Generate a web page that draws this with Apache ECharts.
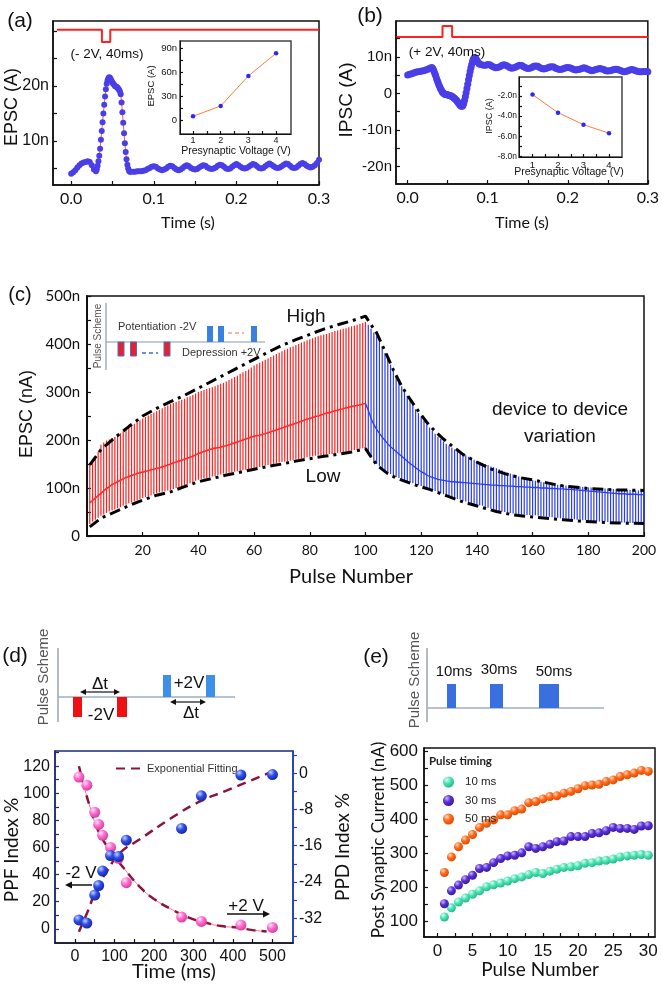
<!DOCTYPE html>
<html><head><meta charset="utf-8">
<script src="https://cdn.jsdelivr.net/npm/echarts@6/dist/echarts.min.js"></script>
<style>html,body{margin:0;padding:0;background:#fff}#c{width:662px;height:986px}</style>
</head><body><div id="c"></div>
<script>
// ---------- (a) EPSC trace: [time s, EPSC nA] ----------
const epscTrace = [[0,4.06],[0.0025,4.3],[0.005,4.7],[0.0075,5.2],[0.01,5.6],[0.0125,5.9],[0.015,6.1],[0.0175,6.2],[0.02,6.3],[0.0225,6.2],[0.025,5.6],[0.0275,4.8],[0.03,4.5],
[0.031,4.8],[0.032,5.5],[0.033,6.3],[0.034,7.3],[0.035,8.6],[0.036,10.2],[0.037,11.8],[0.038,13.4],[0.039,15.0],[0.04,16.6],[0.041,18.1],[0.042,19.4],[0.043,20.4],[0.044,21.0],[0.045,21.4],[0.046,21.6],[0.047,21.5],[0.048,21.2],[0.049,20.9],[0.05,20.6],[0.051,20.4],[0.052,20.2],[0.053,20.0],[0.054,19.9],[0.055,19.8],[0.056,19.7],[0.057,19.5],[0.058,19.3],[0.059,19.0],[0.06,18.5],[0.061,17.0],[0.062,15.2],[0.063,13.3],[0.064,11.4],[0.065,9.6],[0.066,8.0],[0.067,6.7],[0.068,5.7],[0.069,5.0],[0.07,4.6],[0.071,4.4],[0.072,4.4],
[0.075,4.4],[0.0775,4.4],[0.08,4.5],[0.0825,4.5],[0.085,4.5],[0.0875,4.6],[0.09,4.7],[0.0925,4.9],[0.095,5.1],[0.0975,5.3],
[0.1,5.4],[0.1025,5.3],[0.105,5.0],[0.1075,4.8],[0.11,4.7],[0.1125,4.8],[0.115,5.0],[0.1175,5.3],
[0.12,5.5],[0.1225,5.4],[0.125,5.1],[0.1275,4.8],[0.13,4.7],[0.1325,4.8],[0.135,5.1],[0.1375,5.4],
[0.14,5.6],[0.1425,5.4],[0.145,5.1],[0.1475,4.9],[0.15,4.8],[0.1525,4.9],[0.155,5.2],[0.1575,5.4],
[0.16,5.6],[0.1625,5.5],[0.165,5.2],[0.1675,5.0],[0.17,4.9],[0.1725,5.0],[0.175,5.2],[0.1775,5.5],
[0.18,5.7],[0.1825,5.6],[0.185,5.3],[0.1875,5.0],[0.19,4.9],[0.1925,5.0],[0.195,5.3],[0.1975,5.6],
[0.2,5.8],[0.2025,5.6],[0.205,5.3],[0.2075,5.1],[0.21,5.0],[0.2125,5.1],[0.215,5.3],[0.2175,5.6],
[0.22,5.8],[0.2225,5.7],[0.225,5.4],[0.2275,5.1],[0.23,5.0],[0.2325,5.1],[0.235,5.4],[0.2375,5.7],
[0.24,5.9],[0.2425,5.7],[0.245,5.4],[0.2475,5.2],[0.25,5.1],[0.2525,5.2],[0.255,5.4],[0.2575,5.7],
[0.26,5.9],[0.2625,5.8],[0.265,5.5],[0.2675,5.2],[0.27,5.1],[0.2725,5.2],[0.275,5.5],[0.2775,5.8],
[0.28,6.0],[0.2825,5.8],[0.285,5.5],[0.2875,5.3],[0.29,5.2],[0.2925,5.3],[0.295,5.6],[0.2975,6.0],[0.3,6.6]];
const epscPulse = [[-0.0173,30.2],[0.0372,30.2],[0.0372,28.0],[0.0473,28.0],[0.0473,30.2],[0.3,30.2]];
const insetVoltage = [1,2,3,4];
const insetEpsc = [4.6,17.6,55.2,83.7];

// ---------- (b) IPSC trace ----------
const ipscTrace = [[0,5.0],[0.0025,5.2],[0.005,5.4],[0.0075,5.6],[0.01,5.8],[0.0125,5.9],[0.015,6.0],[0.0175,6.1],[0.02,6.2],[0.0225,6.4],[0.025,6.6],[0.0275,6.9],[0.03,7.1],
[0.031,6.9],[0.032,6.5],[0.033,6.0],[0.034,5.4],[0.035,4.8],[0.036,4.1],[0.037,3.5],[0.038,2.9],[0.039,2.3],[0.04,1.8],[0.041,1.3],[0.042,0.9],[0.043,0.5],[0.044,0.2],[0.045,0.0],[0.046,-0.2],[0.047,-0.3],[0.048,-0.3],[0.049,-0.4],[0.05,-0.4],[0.051,-0.5],[0.052,-0.6],[0.053,-0.6],[0.054,-0.7],[0.055,-0.8],[0.056,-0.9],[0.057,-1.1],[0.058,-1.3],[0.059,-1.5],[0.06,-1.7],[0.061,-1.9],[0.062,-2.2],[0.063,-2.5],[0.064,-2.8],[0.065,-3.1],[0.066,-3.3],[0.067,-3.5],[0.068,-3.5],[0.069,-3.3],[0.07,-2.7],[0.071,-1.9],[0.072,-0.9],[0.073,0.2],[0.074,1.3],[0.075,2.5],[0.076,3.7],[0.077,4.9],[0.078,6.0],[0.079,7.0],[0.08,7.9],[0.081,8.7],[0.082,9.3],[0.083,9.7],[0.084,9.8],[0.085,9.6],[0.086,9.2],[0.087,8.8],[0.088,8.5],[0.089,8.2],[0.09,8.0],
[0.0925,7.8],[0.095,7.7],[0.0975,7.7],
[0.1,7.9],[0.1025,7.8],[0.105,7.5],[0.1075,7.2],[0.11,7.0],[0.1125,7.1],[0.115,7.3],[0.1175,7.6],
[0.12,7.8],[0.1225,7.7],[0.125,7.4],[0.1275,7.1],[0.13,6.9],[0.1325,7.0],[0.135,7.2],[0.1375,7.5],
[0.14,7.7],[0.1425,7.6],[0.145,7.3],[0.1475,7.0],[0.15,6.8],[0.1525,6.9],[0.155,7.1],[0.1575,7.4],
[0.16,7.5],[0.1625,7.4],[0.165,7.1],[0.1675,6.8],[0.17,6.7],[0.1725,6.8],[0.175,7.0],[0.1775,7.2],
[0.18,7.3],[0.1825,7.2],[0.185,6.9],[0.1875,6.7],[0.19,6.5],[0.1925,6.6],[0.195,6.8],[0.1975,7.0],
[0.2,7.1],[0.2025,7.0],[0.205,6.8],[0.2075,6.5],[0.21,6.4],[0.2125,6.5],[0.215,6.6],[0.2175,6.8],
[0.22,7.0],[0.2225,6.9],[0.225,6.6],[0.2275,6.4],[0.23,6.2],[0.2325,6.3],[0.235,6.5],[0.2375,6.7],
[0.24,6.8],[0.2425,6.7],[0.245,6.5],[0.2475,6.2],[0.25,6.1],[0.2525,6.2],[0.255,6.3],[0.2575,6.5],
[0.26,6.6],[0.2625,6.5],[0.265,6.3],[0.2675,6.1],[0.27,5.9],[0.2725,6.0],[0.275,6.2],[0.2775,6.4],
[0.28,6.5],[0.2825,6.4],[0.285,6.2],[0.2875,6.0],[0.29,5.9],[0.2925,5.9],[0.295,6.0],[0.2975,6.0],[0.3,5.9]];
const ipscPulse = [[-0.0137,15.45],[0.0435,15.45],[0.0435,18.45],[0.0555,18.45],[0.0555,15.45],[0.3,15.45]];
const insetIpsc = [-1.85,-3.65,-4.85,-5.7];

// ---------- (c) potentiation (pulses 1-100) / depression (101-200), nA ----------
const potHigh = [150,158,166,176,190,195,199,201,204,206, 210,214,218,222,226,230,234,238,241,245,
 248,251,254,257,260,263,266,269,272,275, 277,279,282,284,286,289,291,294,297,300,
 302,304,306,308,310,312,315,317,319,322, 325,328,331,334,338,341,344,347,351,355,
 358,361,364,367,370,373,376,379,382,385, 388,390,393,395,398,400,403,405,408,410,
 412,414,416,418,420,421,423,425,427,428, 430,432,433,435,437,438,440,442,444,446];
const potLow = [25,30,34,38,42,45,48,51,53,55, 58,60,63,65,68,70,72,74,77,79,
 81,83,85,87,89,91,92,93,95,96, 98,100,102,104,106,108,110,112,115,117,
 118,120,121,123,124,125,127,128,130,131, 132,133,134,135,136,137,138,139,141,142,
 143,144,146,147,148,149,150,151,153,154, 155,156,157,158,159,160,161,162,164,165,
 166,167,167,168,169,170,171,171,172,173, 174,175,176,177,178,179,180,182,183,185];
const potMean = [69,74,79,84,89,94,99,103,107,110, 113,116,119,122,124,126,128,130,132,133,
 135,136,138,139,141,142,144,146,148,150, 152,154,156,158,160,162,164,166,169,172,
 174,176,178,180,182,183,184,185,187,188, 190,192,194,196,198,200,202,204,206,208,
 209,210,212,213,215,217,219,221,223,225, 227,229,231,233,235,237,239,241,243,245,
 247,249,250,252,254,256,257,259,261,262, 264,265,267,268,270,271,272,273,275,276];
const depHigh = [440,432,424,416,405,393,381,369,357,345, 333,322,312,302,292,282,273,264,256,248,
 240,233,226,219,213,207,202,197,192,188, 184,180,177,174,171,168,165,162,159,156,
 154,152,150,148,145,143,141,139,137,134, 132,130,128,126,124,122,120,119,117,116,
 115,114,113,112,111,110,109,108,107,107, 106,105,105,104,104,103,103,102,102,101,
 101,100,100,100,99,99,99,98,98,98, 97,97,97,96,96,96,95,95,94,94];
const depLow = [172,163,155,150,145,141,137,133,129,126, 123,121,118,116,114,112,110,108,106,104,
 102,100,98,96,94,92,89,87,85,83, 81,79,77,76,74,72,71,69,67,66,
 64,63,61,59,57,55,54,52,51,50, 49,48,47,46,46,45,45,44,44,43,
 43,42,41,41,40,40,39,38,38,37, 37,36,36,35,35,34,34,33,33,32,
 32,31,31,30,30,30,29,29,29,28, 28,28,28,27,27,27,27,27,27,27];
const depMean = [262,245,232,222,214,206,199,192,186,181, 176,171,166,161,156,151,147,142,138,134,
 131,127,124,122,120,118,117,116,115,114, 113,113,112,112,111,111,110,110,109,109,
 108,108,107,107,106,106,106,105,105,105, 104,104,104,103,103,103,102,102,102,101,
 101,101,100,100,100,99,99,99,98,98, 98,97,97,97,96,96,95,95,94,94,
 93,93,92,92,91,91,90,90,89,89, 88,88,88,87,87,87,87,86,86,86];
const envHigh = [[1,148],[5,180],[10,205],[15,228],[20,250],[25,266],[30,280],[35,293],[40,308],[45,323],[50,338],[55,353],[60,368],[65,383],[70,397],[75,409],[80,420],[85,431],[90,440],[95,448],[100,458],[102,440],[104,423],[107,385],[110,346],[113,312],[116,285],[119,260],[122,237],[125,218],[128,202],[131,188],[135,170],[140,154],[145,140],[150,130],[155,122],[160,117],[170,105],[180,99],[190,96],[200,95]];
const envLow = [[1,19],[5,37],[10,50],[15,63],[20,75],[25,85],[30,92],[35,103],[40,113],[45,120],[50,127],[55,133],[60,139],[65,145],[70,150],[75,156],[80,161],[85,166],[90,170],[95,175],[100,182],[104,148],[108,130],[111,121],[118,106],[123,97],[129,84],[135,71],[141,61],[147,51],[153,44],[159,40],[165,37],[171,34],[177,31],[183,29],[190,27],[200,26]];

// ---------- (d) paired pulse ----------
const ppTime = [10,30,50,60,70,90,110,130,270,320,420,500];
const ppfIndex = [112,106,86,77,69,60,52,34,8.6,5.4,2.7,1];
const ppdIndex = [-32.4,-33.1,-26.9,-24.8,-21.6,-18.2,-18.4,-14.8,-12.2,-5.0,-0.4,-0.3];
const ppfFit = [[10,120],[24,104],[38,90],[58,73],[88,58],[120,46],[164,31],[200,22],[247,14],[290,8],[332,4.4],[370,2],[415,0.7],[450,-1],[485,-2]];
const ppdFit = [[10,-35],[30,-31],[57,-25.1],[80,-21.8],[114,-17.6],[164,-14.6],[246,-9.8],[315,-6.3],[382,-3.9],[490,0]];

// ---------- (e) pulse timing ----------
const pulseNum = [1,2,3,4,5,6,7,8,9,10,11,12,13,14,15,16,17,18,19,20,21,22,23,24,25,26,27,28,29,30];
const cur10 = [113,140,157,169,180,190,202,208,213,219,226,231,238,244,241,248,254,259,261,264,271,273,278,280,284,290,293,295,297,295];
const cur30 = [152,190,207,223,236,256,259,273,285,293,295,302,320,315,320,327,335,337,350,350,350,359,361,367,377,374,374,371,381,382];
const cur50 = [244,290,320,340,356,377,389,399,414,414,426,431,450,453,461,468,470,478,483,491,500,502,504,512,517,527,532,537,545,542];

// ---------- helpers ----------
const AR = 'Liberation Sans, Arial, sans-serif';
const LA = 'Lato, sans-serif';
function sphere(hi, base, dark){ return {type:'radial',x:0.35,y:0.3,r:0.75,colorStops:[{offset:0,color:hi},{offset:0.45,color:base},{offset:1,color:dark}]}; }
function ax(o){
  return {type:'value', gridIndex:o.g, min:o.min, max:o.max, position:o.pos,
    axisLine:{show:true,onZero:false,lineStyle:{color:o.lc||'#111',width:o.lw||1.5}},
    axisTick:{show:true,inside:o.tin!==false,length:o.tl||4,customValues:o.ticks,lineStyle:{color:o.tc||o.lc||'#111',width:1.2}},
    axisLabel:{show:true,customValues:o.labels,formatter:o.fmt,fontSize:o.fs,fontFamily:o.ff||AR,color:'#111',margin:o.m||6},
    splitLine:{show:false}};
}
const nfmt = v => v===0 ? '0' : v+'n';
function grid(l,t,w,h,bc){ return {left:l,top:t,width:w,height:h,show:true,borderColor:bc||'#111',borderWidth:1.5,backgroundColor:'rgba(0,0,0,0)'}; }

const G = [];
function txt(x,y,s,size,o){ o=o||{};
  G.push({type:'text',x:x,y:y,rotation:o.rot?Math.PI/2:0,z:100,
    style:{text:s,font:(o.w||'normal')+' '+size+'px '+(o.ff||AR),fill:o.c||'#111',
      align:o.al||'center',textAlign:o.al||'center',verticalAlign:'middle',textVerticalAlign:'middle'}}); }
function ln(x1,y1,x2,y2,c,w,dash){ G.push({type:'line',z:100,shape:{x1,y1,x2,y2},style:{stroke:c,lineWidth:w,lineDash:dash||null}}); }
function rc(x,y,w,h,f,s){ G.push({type:'rect',z:100,shape:{x,y,width:w,height:h},style:{fill:f,stroke:s||null,lineWidth:s?1:0}}); }
function tri(pts,c){ G.push({type:'polygon',z:100,shape:{points:pts},style:{fill:c}}); }
function arrowR(x1,x2,y){ ln(x1,y,x2-5,y,'#111',1.5); tri([[x2,y],[x2-7,y-3.5],[x2-7,y+3.5]],'#111'); }
function arrowL(x1,x2,y){ ln(x1+5,y,x2,y,'#111',1.5); tri([[x1,y],[x1+7,y-3.5],[x1+7,y+3.5]],'#111'); }
function arrow2(x1,x2,y){ ln(x1+4,y,x2-4,y,'#111',1.2); tri([[x1,y],[x1+6,y-3],[x1+6,y+3]],'#111'); tri([[x2,y],[x2-6,y-3],[x2-6,y+3]],'#111'); }

// panel labels and titles
txt(20,21,'(a)',21); txt(370,16,'(b)',21); txt(20,295,'(c)',20); txt(15,656,'(d)',21); txt(376,657,'(e)',21);
txt(12,107,'EPSC (A)',18,{rot:1}); txt(188,223,'Time (s)',16,{ff:LA});
txt(107,54,'(- 2V, 40ms)',13.5); txt(447,52,'(+ 2V, 40ms)',13.5);
txt(347,100,'IPSC (A)',19,{rot:1}); txt(522,223,'Time (s)',16,{ff:LA});
txt(236,151,'Presynaptic Voltage (V)',10.5); txt(151,86,'EPSC (A)',9.5,{rot:1});
txt(569,172,'Presynaptic Voltage (V)',10.5); txt(490,116,'IPSC (A)',9,{rot:1});
txt(27,414,'EPSC (nA)',18,{rot:1}); txt(351,577,'Pulse Number',20,{ff:LA});
txt(306,317,'High',19); txt(323,477,'Low',19);
txt(560,410,'device to device',19); txt(560,437,'variation',19);
txt(12,850,'PPF Index %',19,{rot:1,ff:LA}); txt(174,972,'Time (ms)',20,{ff:LA}); txt(343,847,'PPD Index %',19,{rot:1,ff:LA});
txt(379,840,'Post Synaptic Current (nA)',17,{rot:1,ff:LA}); txt(540,970,'Pulse Number',19,{ff:LA});
txt(429,761,'Pulse timing',11.5,{al:'left',w:'bold',ff:LA,c:'#222'});

// (c) inset pulse scheme
txt(98,336,'Pulse Scheme',10,{rot:1,c:'#555'});
ln(106,303,106,370,'#8a9aa8',1.2); ln(106,342,265,342,'#8a9aa8',1.2);
rc(118,342,6,14,'#e8202a','#4a6fd0'); rc(130.5,342,6,14,'#e8202a','#4a6fd0'); rc(164,342,6,14,'#e8202a','#4a6fd0');
ln(142,353,158,353,'#3a6fd0',1.5,[4,3]);
rc(207,326,6,16,'#3a80e0'); rc(218,326,6,16,'#3a80e0'); rc(251,326,6,16,'#3a80e0');
ln(228,333,244,333,'#f4a080',1.5,[4,3]);
txt(118,327,'Potentiation -2V',11,{al:'left',c:'#333'}); txt(182,353,'Depression +2V',11,{al:'left',c:'#333'});

// (d) pulse scheme
txt(44,677,'Pulse Scheme',15,{rot:1,c:'#555'});
ln(58,648,58,722,'#9aa4ae',1.5); ln(58,697,235,697,'#9ab0c0',1.5);
rc(73,697,9,20,'#ee1111'); rc(117,697,10,20,'#ee1111');
rc(163,675,8,22,'#3d8fe8'); rc(206,675,9,22,'#3d8fe8');
txt(100,684,'Δt',17); arrow2(80,120,692); txt(101,715,'-2V',17);
txt(189,683,'+2V',17); txt(191,713,'Δt',17); arrow2(170,206,702);
txt(81,873,'-2 V',17); arrowL(65,92,885); txt(246,906,'+2 V',17); arrowR(227,270,914);

// (e) pulse scheme
txt(415,680,'Pulse Scheme',15,{rot:1,c:'#555'});
ln(427,648,427,722,'#9aa4ae',1.5); ln(427,708,604,708,'#9ab0c0',1.5);
rc(447,684,9,24,'#3a6fe0'); rc(490,684,13,24,'#3a6fe0'); rc(539,684,20,24,'#3a6fe0');
txt(454,672,'10ms',15); txt(499,670,'30ms',15); txt(554,672,'50ms',15);

function errBars(color){
  return function(params, api){
    const p1 = api.coord([api.value(0), api.value(1)]);
    const p2 = api.coord([api.value(0), api.value(2)]);
    return {type:'line',shape:{x1:p1[0],y1:p1[1],x2:p2[0],y2:p2[1]},style:{stroke:color,lineWidth:1.2}};
  };
}

const option = {
  animation:false,
  backgroundColor:'#fff',
  textStyle:{fontFamily:AR},
  grid:[grid(53,21,266,164), grid(180,41,111,93,'#444'), grid(396,21,253,163), grid(519,77,103,80,'#444'),
        grid(87,296,557,240), grid(55,751,238,192,'#1e2a7a'), grid(424,748,231,189)],
  xAxis:[
    ax({g:0,min:-0.022,max:0.3,ticks:[0,0.05,0.1,0.15,0.2,0.25,0.3],labels:[0,0.1,0.2,0.3],fmt:v=>v.toFixed(1),fs:16,ff:LA,m:6}),
    ax({g:1,min:0.53,max:4.54,ticks:[1,1.5,2,2.5,3,3.5,4],labels:[1,2,3,4],fs:9,m:2,tl:3,lw:1}),
    ax({g:2,min:-0.0146,max:0.3,ticks:[0,0.05,0.1,0.15,0.2,0.25,0.3],labels:[0,0.1,0.2,0.3],fmt:v=>v.toFixed(1),fs:16,ff:LA,m:6}),
    ax({g:3,min:0.47,max:4.51,ticks:[1,1.5,2,2.5,3,3.5,4],labels:[1,2,3,4],fs:9.5,m:3,tl:3,lw:1}),
    ax({g:4,min:0,max:200,ticks:[20,40,60,80,100,120,140,160,180,200],labels:[20,40,60,80,100,120,140,160,180,200],fs:14,ff:LA,m:7,lw:2}),
    ax({g:5,min:-50.6,max:552,ticks:[0,50,100,150,200,250,300,350,400,450,500],labels:[0,100,200,300,400,500],fs:16,m:6}),
    ax({g:6,min:-1.9,max:30.95,ticks:[0,2.5,5,7.5,10,12.5,15,17.5,20,22.5,25,27.5,30],labels:[0,5,10,15,20,25,30],fs:17,m:6})
  ],
  yAxis:[
    ax({g:0,min:2.0,max:31.8,ticks:[5,10,15,20,25,30],labels:[10,20],fmt:nfmt,fs:16,m:4}),
    ax({g:1,min:-17.6,max:99.1,ticks:[0,15,30,45,60,75,90],labels:[0,30,60,90],fmt:nfmt,fs:9.5,m:3,tl:3,lw:1}),
    ax({g:2,min:-24.8,max:19.8,ticks:[-20,-15,-10,-5,0,5,10,15],labels:[-20,-10,0,10],fmt:nfmt,fs:15,m:4}),
    ax({g:3,min:-8.07,max:-0.1,ticks:[-8,-7,-6,-5,-4,-3,-2,-1],labels:[-8,-6,-4,-2],fmt:v=>v.toFixed(1)+'n',fs:8.5,m:2,tl:3,lw:1}),
    ax({g:4,min:0,max:500,ticks:[0,50,100,150,200,250,300,350,400,450,500],labels:[0,100,200,300,400,500],fmt:nfmt,fs:15,ff:LA,m:7,lw:2}),
    ax({g:5,min:-10.5,max:131.2,ticks:[0,10,20,30,40,50,60,70,80,90,100,110,120,130],labels:[0,20,40,60,80,100,120],fs:16,m:5,lc:'#1e2a7a'}),
    ax({g:5,pos:'right',min:-37.5,max:4.9,ticks:[-36,-32,-28,-24,-20,-16,-12,-8,-4,0,4],labels:[-32,-24,-16,-8,0],fs:16,m:6,lc:'#2040c0',tin:false}),
    ax({g:6,min:54,max:611,ticks:[100,150,200,250,300,350,400,450,500,550,600],labels:[100,200,300,400,500,600],fs:17,m:6})
  ],
  legend:[
    {data:[{name:'Exponential Fitting',itemStyle:{opacity:0}}],left:110,top:758,itemWidth:26,itemHeight:10,itemGap:4,selectedMode:false,
     textStyle:{fontSize:11,fontFamily:AR,color:'#333'}},
    {data:['10 ms','30 ms','50 ms'],orient:'vertical',left:438,top:771,itemWidth:11,itemHeight:11,itemGap:6.5,icon:'circle',selectedMode:false,
     textStyle:{fontSize:11.5,fontFamily:AR,color:'#222',padding:[0,0,0,6]}}
  ],
  graphic:G,
  series:[
    // (a)
    {type:'line',xAxisIndex:0,yAxisIndex:0,data:epscPulse,symbol:'none',lineStyle:{color:'#ff2020',width:2}},
    {type:'line',xAxisIndex:0,yAxisIndex:0,data:epscTrace,symbol:'circle',symbolSize:6,showSymbol:true,showAllSymbol:true,
     itemStyle:{color:'#4a3ee8'},lineStyle:{color:'#ff5a3c',width:1},z:3},
    {type:'line',xAxisIndex:1,yAxisIndex:1,data:insetVoltage.map((v,i)=>[v,insetEpsc[i]]),symbol:'circle',symbolSize:4.5,
     itemStyle:{color:'#2b2bf0'},lineStyle:{color:'#ff7b3a',width:1}},
    // (b)
    {type:'line',xAxisIndex:2,yAxisIndex:2,data:ipscPulse,symbol:'none',lineStyle:{color:'#ff2020',width:2}},
    {type:'line',xAxisIndex:2,yAxisIndex:2,data:ipscTrace,symbol:'circle',symbolSize:7,showSymbol:true,showAllSymbol:true,
     itemStyle:{color:'#4a3ee8'},lineStyle:{color:'#ff5a3c',width:1},z:3},
    {type:'line',xAxisIndex:3,yAxisIndex:3,data:insetVoltage.map((v,i)=>[v,insetIpsc[i]]),symbol:'circle',symbolSize:4.5,
     itemStyle:{color:'#2b2bf0'},lineStyle:{color:'#ff7b3a',width:1}},
    // (c)
    {type:'custom',xAxisIndex:4,yAxisIndex:4,data:potHigh.map((h,i)=>[i+1,potLow[i],h]),renderItem:errBars('#ff1f1f'),encode:{x:0,y:[1,2]}},
    {type:'custom',xAxisIndex:4,yAxisIndex:4,data:depHigh.map((h,i)=>[i+101,depLow[i],h]),renderItem:errBars('#2a3cf0'),encode:{x:0,y:[1,2]}},
    {type:'line',xAxisIndex:4,yAxisIndex:4,data:potMean.map((v,i)=>[i+1,v]),symbol:'none',lineStyle:{color:'#ff2a2a',width:1.6},z:4},
    {type:'line',xAxisIndex:4,yAxisIndex:4,data:[[100,potMean[99]]].concat(depMean.map((v,i)=>[i+101,v])),symbol:'none',lineStyle:{color:'#2a3cf0',width:1.3},z:4},
    {type:'line',xAxisIndex:4,yAxisIndex:4,data:envHigh,symbol:'none',lineStyle:{color:'#000',width:3,type:[11,5,3,5]},z:5},
    {type:'line',xAxisIndex:4,yAxisIndex:4,data:envLow,symbol:'none',lineStyle:{color:'#000',width:3,type:[11,5,3,5]},z:5},
    // (d)
    {type:'line',name:'Exponential Fitting',xAxisIndex:5,yAxisIndex:5,data:ppfFit,smooth:true,symbol:'none',
     itemStyle:{color:'#8a1538'},lineStyle:{color:'#8a1538',width:2.5,type:[9,6]},z:4},
    {type:'line',name:'ppfGuide',xAxisIndex:5,yAxisIndex:5,data:ppfFit,smooth:true,symbol:'none',lineStyle:{color:'#ff7090',width:1},z:3},
    {type:'line',name:'Exponential Fitting',xAxisIndex:5,yAxisIndex:6,data:ppdFit,smooth:true,symbol:'none',
     itemStyle:{color:'#8a1538'},lineStyle:{color:'#8a1538',width:2.5,type:[9,6]},z:4},
    {type:'scatter',name:'PPF',xAxisIndex:5,yAxisIndex:5,data:ppTime.map((t,i)=>[t,ppfIndex[i]]),symbolSize:11,
     itemStyle:{color:sphere('#ffe6f6','#ff6ccf','#d23a9e'),opacity:1},z:5},
    {type:'scatter',name:'PPD',xAxisIndex:5,yAxisIndex:6,data:ppTime.map((t,i)=>[t,ppdIndex[i]]),symbolSize:11,
     itemStyle:{color:sphere('#c4d0ff','#2f4fe8','#1424a0'),opacity:1},z:5},
    // (e)
    {type:'scatter',name:'10 ms',xAxisIndex:6,yAxisIndex:7,data:pulseNum.map((p,i)=>[p,cur10[i]]),symbolSize:9,
     itemStyle:{color:sphere('#e0fff4','#4de3b2','#1fb585'),opacity:1}},
    {type:'scatter',name:'30 ms',xAxisIndex:6,yAxisIndex:7,data:pulseNum.map((p,i)=>[p,cur30[i]]),symbolSize:9,
     itemStyle:{color:sphere('#c8b8ff','#5b30d8','#36179a'),opacity:1}},
    {type:'scatter',name:'50 ms',xAxisIndex:6,yAxisIndex:7,data:pulseNum.map((p,i)=>[p,cur50[i]]),symbolSize:9,
     itemStyle:{color:sphere('#ffd8c0','#ff6a1c','#d84800'),opacity:1}}
  ]
};
const chart = echarts.init(document.getElementById('c'), null, {renderer:'canvas'});
chart.setOption(option);
</script></body></html>
